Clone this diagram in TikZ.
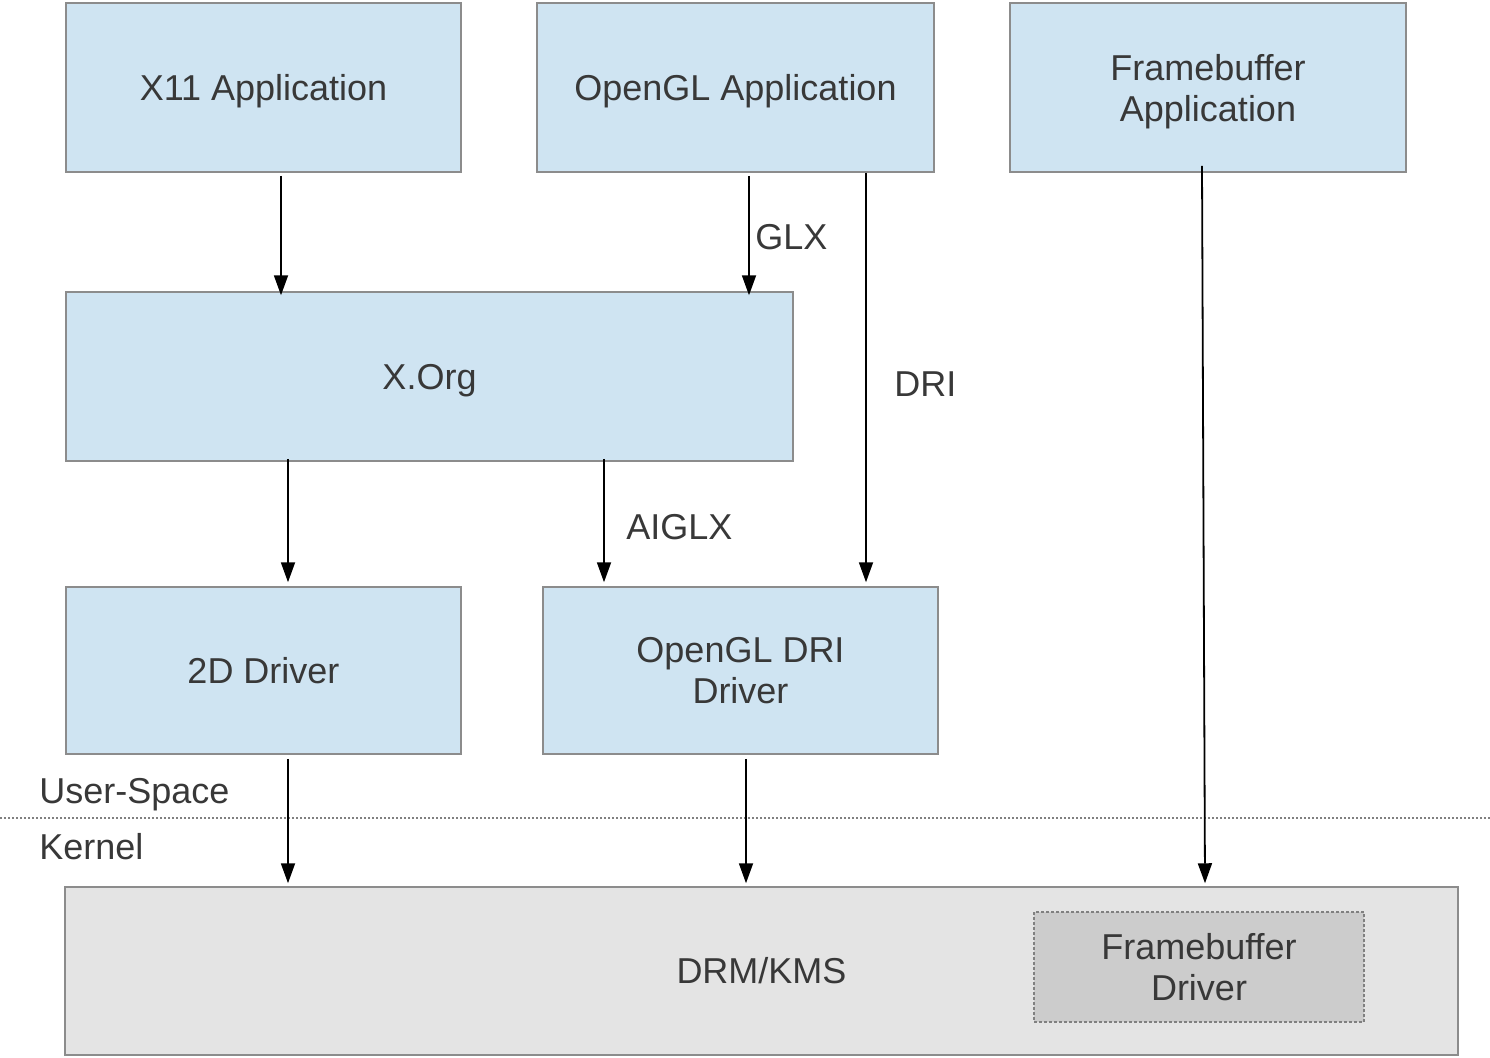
\documentclass[tikz,border=0pt]{standalone}
\usepackage{fontspec}
\setmainfont{Liberation Sans}
\usetikzlibrary{arrows.meta}
\definecolor{boxblue}{HTML}{CFE4F2}
\definecolor{boxedge}{HTML}{8C8C8C}
\definecolor{drmgray}{HTML}{E4E4E4}
\definecolor{fbgray}{HTML}{CCCCCC}
\definecolor{txt}{HTML}{383838}
\tikzset{
  box/.style={draw=boxedge, line width=0.75pt, fill=boxblue, text=txt, align=center,
    font=\fontsize{18pt}{20.5pt}\selectfont, inner sep=0pt},
  nodesc/.style={text depth=0pt},
  kbox/.style={box, fill=drmgray},
  fbbox/.style={box, fill=fbgray, dashed, dash pattern=on 1.5pt off 1pt, draw=gray},
  lbl/.style={text=txt, font=\fontsize{18pt}{20.5pt}\selectfont, inner sep=0pt, anchor=base west},
  arr/.style={-{Triangle[length=10pt,width=7pt]}, line width=0.9pt, black},
}
\begin{document}
\begin{tikzpicture}[x=0.5pt,y=-0.5pt]
\useasboundingbox (0,0) rectangle (1490,1057);
% boxes
\node[box, nodesc, minimum width=197.5pt, minimum height=84.5pt] (x11) at (263.5,87.5) {X11 Application};
\node[box, nodesc, minimum width=198.5pt, minimum height=84.5pt] (glapp) at (735.5,87.5) {OpenGL Application};
\node[box, nodesc, minimum width=198pt, minimum height=84.5pt] (fbapp) at (1208,87.5) {Framebuffer\\Application};
\node[box, nodesc, minimum width=363.5pt, minimum height=84.5pt] (xorg) at (429.5,376.5) {X.Org};
\node[box, minimum width=197.5pt, minimum height=83.5pt] (twod) at (263.5,670.5) {2D Driver};
\node[box, minimum width=197.5pt, minimum height=83.5pt] (dridrv) at (740.5,670.5) {OpenGL DRI\\Driver};
\node[kbox, minimum width=696.5pt, minimum height=84pt] (drm) at (761.5,971) {DRM/KMS};
\node[fbbox, minimum width=165pt, minimum height=55pt] (fbdrv) at (1199,967) {Framebuffer\\Driver};
% separator
\coordinate (sepL) at (0,818);
\coordinate (sepR) at (1490,818);
\draw[gray, line width=0.6pt, dash pattern=on 1pt off 1pt] (sepL) -- (sepR);
\node[lbl] (us) at (39,803) {User-Space};
\node[lbl] (kern) at (39,859) {Kernel};
% column coordinates
\coordinate (cA) at (281,0);
\coordinate (cB) at (749,0);
\coordinate (cC) at (866,0);
\coordinate (cD) at (288,0);
\coordinate (cE) at (604,0);
\coordinate (cF) at (746,0);
\coordinate (cG1) at (1202,0);
\coordinate (cG2) at (1205,0);
% arrows
\draw[arr] ([yshift=-1.5pt]x11.south -| cA) -- ([yshift=-2pt]xorg.north -| cA);
\draw[arr] ([yshift=-1.5pt]glapp.south -| cB) -- ([yshift=-2pt]xorg.north -| cB);
\node[lbl] (glx) at (755,249) {GLX};
\draw[arr] (glapp.south -| cC) -- ([yshift=2pt]dridrv.north -| cC);
\node[lbl] (dri) at (894,396) {DRI};
\draw[arr] ([yshift=1.5pt]xorg.south -| cD) -- ([yshift=2pt]twod.north -| cD);
\draw[arr] ([yshift=1.5pt]xorg.south -| cE) -- ([yshift=2pt]dridrv.north -| cE);
\node[lbl] (aiglx) at (626,539) {AIGLX};
\draw[arr] ([yshift=-2pt]twod.south -| cD) -- ([yshift=1.5pt]drm.north -| cD);
\draw[arr] ([yshift=-2pt]dridrv.south -| cF) -- ([yshift=1.5pt]drm.north -| cF);
\draw[arr] ([yshift=3.5pt]fbapp.south -| cG1) -- ([yshift=1.5pt]drm.north -| cG2);
\end{tikzpicture}
\end{document}
